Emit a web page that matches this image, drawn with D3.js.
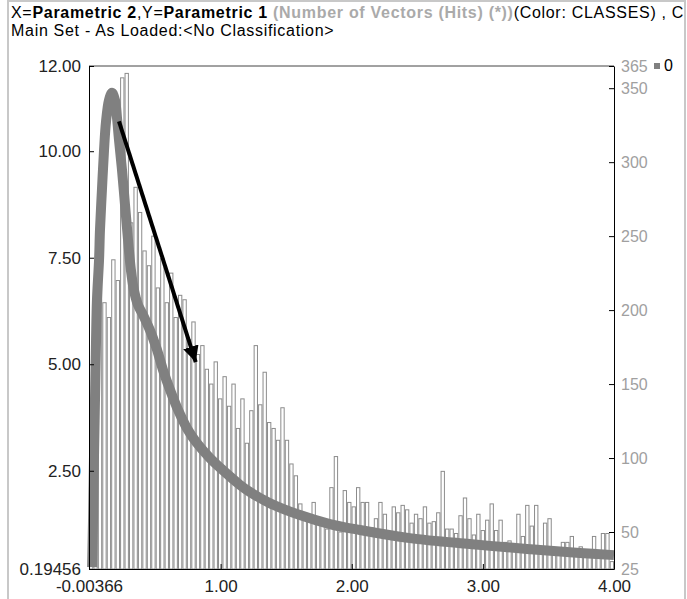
<!DOCTYPE html>
<html>
<head>
<meta charset="utf-8">
<script src="https://cdn.jsdelivr.net/npm/d3@7"></script>
<style>
  body { margin: 0; background: #fff; }
  text { font-family: "Liberation Sans", Arial, sans-serif; }
</style>
</head>
<body>
<div id="root"></div>
<script>
// histogram of hits, one value per bin from binStart to binEnd (right axis)
var binStart = -0.00366, binEnd = 4.0;
var hits = [80, 215, 222, 205, 195, 234, 220, 357, 360, 259, 283, 266, 240, 230, 250, 215,
  235, 205, 225, 195, 210, 207, 180, 192, 170, 176, 160, 150, 165, 140, 155, 135,
  150, 120, 140, 110, 132, 176, 136, 158, 124, 120, 112, 134, 112, 96, 88, 69,
  60, 58, 70, 55, 55, 52, 80, 101, 50, 78, 70, 67, 80, 70, 70, 53,
  59, 70, 62, 50, 67, 63, 68, 65, 56, 62, 59, 67, 56, 57, 63, 91,
  52, 52, 49, 61, 73, 59, 48, 62, 51, 58, 69, 51, 58, 43, 44, 40,
  62, 47, 68, 54, 68, 40, 56, 59, 39, 36, 43, 43, 47, 38, 40, 36,
  35, 47, 35, 49, 49, 30];

// Parametric 2 (x) vs Parametric 1 (y), left axis
var curveX = [0.02, 0.027, 0.034, 0.042, 0.050, 0.057, 0.073, 0.080, 0.095, 0.111, 0.126, 0.149,
  0.172, 0.194, 0.210, 0.225, 0.248, 0.271, 0.294, 0.316, 0.339, 0.370, 0.408, 0.461,
  0.515, 0.560, 0.614, 0.675, 0.743, 0.819, 0.918, 1.033, 1.147, 1.224, 1.376, 1.605,
  1.833, 2.062, 2.443, 2.900, 3.358, 3.739, 4.0];
var curveY = [0.24, 1.35, 2.75, 4.16, 5.57, 6.51, 7.45, 8.15, 9.09, 10.03, 10.69, 11.20,
  11.37, 11.20, 10.78, 10.27, 9.56, 8.74, 7.92, 7.21, 6.74, 6.39, 6.16, 5.80,
  5.34, 4.87, 4.40, 3.93, 3.50, 3.15, 2.80, 2.47, 2.17, 2.00, 1.74, 1.46,
  1.25, 1.11, 0.92, 0.78, 0.66, 0.57, 0.52];

var leftTicks = [0.19456, 2.5, 5, 7.5, 10, 12];
var rightTicks = [25, 50, 100, 150, 200, 250, 300, 350, 365];
var bottomTicks = [-0.00366, 1, 2, 3, 4];
var arrowX = [0.225, 0.81], arrowY = [10.7, 5.05];
var legendLabels = ['0'];

var W = 687, H = 599;
var plotL = 89, plotR = 614, plotT = 66, plotB = 569;

var svg = d3.select('#root')
  .append('svg')
    .attr('width', W)
    .attr('height', H);

// outer frame
svg.append('rect')
  .attr('x', 8).attr('y', 1)
  .attr('width', 677).attr('height', 610)
  .attr('fill', 'none')
  .attr('stroke', '#c8c8c8')
  .attr('stroke-width', 2);

// title lines
var t1 = svg.append('text').attr('x', 11).attr('y', 18)
  .attr('font-size', 16).attr('letter-spacing', 0.7).attr('fill', '#000');
t1.append('tspan').text('X=');
t1.append('tspan').attr('font-weight', 'bold').text('Parametric 2');
t1.append('tspan').text(',Y=');
t1.append('tspan').attr('font-weight', 'bold').text('Parametric 1');
t1.append('tspan').attr('font-weight', 'bold').attr('fill', '#aaa').text(' (Number of Vectors (Hits) (*))');
t1.append('tspan').text('(Color: CLASSES) , C');

svg.append('text')
  .attr('x', 11).attr('y', 36)
  .attr('font-size', 16).attr('letter-spacing', 0.7)
  .text('Main Set - As Loaded:<No Classification>');

var x = d3.scaleLinear().domain([binStart, binEnd]).range([plotL, plotR]);
var yLeft = d3.scaleLinear().domain([0.19456, 12]).range([plotB, plotT]);
var yRight = d3.scaleLinear().domain([25, 365]).range([plotB, plotT]);

var band = d3.scaleBand()
  .domain(d3.range(hits.length))
  .range([x(binStart), x(binEnd)])
  .paddingInner(0.25)
  .paddingOuter(0.1);

svg.append('g')
  .selectAll('rect')
  .data(hits)
  .enter()
  .append('rect')
    .attr('x', (d, i) => band(i))
    .attr('y', d => yRight(d))
    .attr('width', band.bandwidth())
    .attr('height', d => yRight(25) - yRight(d))
    .attr('fill', '#fff')
    .attr('stroke', '#8c8c8c')
    .attr('stroke-width', 1);

svg.append('path')
  .datum(curveX.map((v, i) => [v, curveY[i]]))
  .attr('d', d3.line().x(d => x(d[0])).y(d => yLeft(d[1])).curve(d3.curveCatmullRom))
  .attr('fill', 'none')
  .attr('stroke', '#808080')
  .attr('stroke-width', 10)
  .attr('stroke-linejoin', 'round');

// arrow
svg.append('defs').append('marker')
  .attr('id', 'head')
  .attr('markerUnits', 'userSpaceOnUse')
  .attr('markerWidth', 18).attr('markerHeight', 16)
  .attr('refX', 16).attr('refY', 8)
  .attr('orient', 'auto')
  .append('path')
    .attr('d', 'M0,0L16,8L0,16Z')
    .attr('fill', '#000');

svg.append('line')
  .attr('x1', x(arrowX[0])).attr('y1', yLeft(arrowY[0]))
  .attr('x2', x(arrowX[1])).attr('y2', yLeft(arrowY[1]))
  .attr('stroke', '#000')
  .attr('stroke-width', 4)
  .attr('marker-end', 'url(#head)');

// frame top
svg.append('line')
  .attr('x1', plotL).attr('x2', plotR)
  .attr('y1', plotT).attr('y2', plotT)
  .attr('stroke', '#444');

var fmt = d => d === 0.19456 ? '0.19456' : d3.format('.2f')(d);

var gl = svg.append('g')
  .attr('transform', 'translate(' + plotL + ',0)')
  .call(d3.axisLeft(yLeft).tickValues(leftTicks).tickFormat(fmt).tickSize(-5).tickSizeOuter(0).tickPadding(8));
gl.selectAll('text').attr('font-size', 17).attr('fill', '#222');

var gr = svg.append('g')
  .attr('transform', 'translate(' + plotR + ',0)')
  .call(d3.axisRight(yRight).tickValues(rightTicks).tickSize(-5).tickSizeOuter(0).tickPadding(7));
gr.selectAll('text').attr('font-size', 16).attr('fill', '#a0a0a0');

var gb = svg.append('g')
  .attr('transform', 'translate(0,' + plotB + ')')
  .call(d3.axisBottom(x).tickValues(bottomTicks)
    .tickFormat(d => d === -0.00366 ? '-0.00366' : d3.format('.2f')(d))
    .tickSize(-5).tickSizeOuter(0).tickPadding(11));
gb.selectAll('text').attr('font-size', 17).attr('fill', '#222');

[gl, gr, gb].forEach(g => {
  g.select('.domain').attr('stroke', '#000');
  g.selectAll('.tick line').attr('stroke', '#000');
  g.selectAll('text').attr('font-family', '"Liberation Sans", Arial, sans-serif');
});

// legend
var lg = svg.append('g').attr('transform', 'translate(654,63)');
lg.selectAll('rect').data(legendLabels).enter().append('rect')
  .attr('width', 6).attr('height', 6).attr('fill', '#808080');
lg.selectAll('text').data(legendLabels).enter().append('text')
  .attr('x', 10).attr('y', 8)
  .attr('font-size', 16)
  .text(d => d);
</script>
</body>
</html>
